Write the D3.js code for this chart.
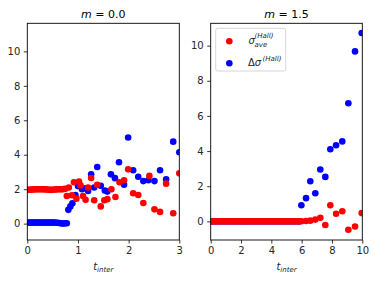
<!DOCTYPE html>
<html>
<head>
<meta charset="utf-8">
<script src="https://cdn.jsdelivr.net/npm/d3@7"></script>
<style>
  body { margin: 0; background: #fff; }
  svg text { font-family: "DejaVu Sans", sans-serif; }
</style>
</head>
<body>
<svg width="375" height="282"></svg>
<script>
// ---- data ----
// panel m = 0.0 : flat start
var tFlatA = [0, 0.03, 0.06, 0.09, 0.12, 0.15, 0.18, 0.21, 0.24, 0.27, 0.30, 0.33, 0.36, 0.39,
    0.42, 0.45, 0.48, 0.51, 0.54, 0.57, 0.60, 0.63, 0.66, 0.69, 0.72, 0.75];
var aveFlatA = [1.97, 1.97, 1.97, 1.98, 1.98, 1.99, 2.0, 2.0, 2.0, 2.0, 2.0, 1.99, 1.99, 1.98,
    1.97, 1.96, 1.96, 1.97, 1.98, 1.99, 2.0, 2.0, 2.0, 2.0, 2.01, 2.02];
var deltaFlatA = [0.06, 0.06, 0.06, 0.06, 0.06, 0.06, 0.06, 0.06, 0.06, 0.06, 0.06, 0.06, 0.06, 0.06,
    0.06, 0.06, 0.06, 0.06, 0.06, 0.05, 0.05, 0.04, 0.02, 0.01, 0.01, 0.02];
// panel m = 0.0 : scattered part
var tAveA = [0.78, 0.82, 0.88, 0.92, 0.97, 1.02, 1.05, 1.10, 1.15, 1.20, 1.26, 1.32, 1.38, 1.45, 1.52,
    1.58, 1.66, 1.74, 1.82, 1.91, 1.99, 2.09, 2.19, 2.29, 2.41, 2.51, 2.62, 2.74, 2.88, 3.00];
var aveA = [1.60, 2.10, 1.65, 2.40, 1.45, 2.45, 2.22, 1.60, 1.38, 2.10, 2.65, 1.36, 2.26, 1.00, 1.36,
    1.42, 2.00, 1.55, 2.40, 2.52, 3.15, 1.76, 1.66, 1.20, 2.77, 0.83, 0.68, 2.32, 0.60, 2.92];
var tDeltaA = [0.78, 0.81, 0.85, 0.89, 0.95, 1.00, 1.08, 1.15, 1.20, 1.26, 1.32, 1.38, 1.45, 1.53, 1.58,
    1.65, 1.73, 1.81, 1.91, 1.99, 2.09, 2.19, 2.29, 2.39, 2.51, 2.62, 2.74, 2.88, 3.00];
var deltaA = [0.02, 0.80, 1.00, 1.18, 1.66, 2.18, 2.00, 2.05, 1.90, 2.86, 2.10, 3.29, 2.20, 1.92, 1.86,
    2.86, 2.64, 3.56, 2.26, 5.00, 3.10, 2.72, 2.47, 2.52, 2.47, 3.10, 2.57, 4.76, 4.14];

// panel m = 1.5 : flat start (both series sit on zero)
var tFlatB = [0, 0.15, 0.3, 0.45, 0.6, 0.75, 0.9, 1.05, 1.2, 1.35, 1.5, 1.65, 1.8, 1.95, 2.1, 2.25,
    2.4, 2.55, 2.7, 2.85, 3.0, 3.15, 3.3, 3.45, 3.6, 3.75, 3.9, 4.05, 4.2, 4.35, 4.5, 4.65, 4.8,
    4.95, 5.1, 5.25, 5.4, 5.55, 5.7, 5.85];
var aveFlatB = [0, 0, 0, 0, 0, 0, 0, 0, 0, 0, 0, 0, 0, 0, 0, 0, 0, 0, 0, 0, 0, 0, 0, 0, 0, 0, 0,
    0, 0, 0, 0, 0, 0, 0, 0, 0, 0, 0, 0, 0];
var deltaFlatB = [0, 0, 0, 0, 0, 0, 0, 0, 0, 0, 0, 0, 0, 0, 0, 0, 0, 0, 0, 0, 0, 0, 0, 0, 0, 0, 0,
    0, 0, 0, 0, 0, 0, 0, 0, 0, 0, 0, 0, 0];
// panel m = 1.5 : rising part
var tB = [5.98, 6.29, 6.57, 6.90, 7.23, 7.56, 7.89, 8.27, 8.68, 9.08, 9.52, 9.96];
var aveB = [0.01, 0.02, 0.04, 0.10, 0.20, -0.21, 0.92, 0.43, 0.58, -0.48, -0.29, 0.47];
var deltaB = [0.92, 1.32, 2.28, 1.60, 2.95, 2.53, 4.10, 4.33, 4.55, 6.72, 9.67, 10.72];

var titles = ["0.0", "1.5"];
var xTicksA = [0, 1, 2, 3];
var xTicksB = [0, 2, 4, 6, 8, 10];
var yTicks = [0, 2, 4, 6, 8, 10];

var red = "#ff0000", blue = "#0000ff";

function pairs(t, v) { return t.map(function (d, i) { return [d, v[i]]; }); }

var svg = d3.select("svg");

var panels = [
    { id: "a", title: titles[0], x0: 27.3, x1: 179.3, xdom: [0, 3], ydom: [-0.95, 11.63], xticks: xTicksA,
      blue: pairs(tFlatA, deltaFlatA).concat(pairs(tDeltaA, deltaA)),
      red: pairs(tFlatA, aveFlatA).concat(pairs(tAveA, aveA)), legend: false },
    { id: "b", title: titles[1], x0: 210.7, x1: 362.3, xdom: [0, 10], ydom: [-1.06, 11.27], xticks: xTicksB,
      blue: pairs(tFlatB, deltaFlatB).concat(pairs(tB, deltaB)),
      red: pairs(tFlatB, aveFlatB).concat(pairs(tB, aveB)), legend: true }
];
var plotTop = 23.3, plotBottom = 240;

panels.forEach(function (p) {
    var x = d3.scaleLinear().domain(p.xdom).range([p.x0, p.x1]);
    var y = d3.scaleLinear().domain(p.ydom).range([plotBottom, plotTop]);

    svg.append("clipPath").attr("id", "clip" + p.id)
        .append("rect").attr("x", p.x0).attr("y", plotTop)
        .attr("width", p.x1 - p.x0).attr("height", plotBottom - plotTop);

    var g = svg.append("g").attr("clip-path", "url(#clip" + p.id + ")");
    g.selectAll(".b").data(p.blue).enter().append("circle")
        .attr("cx", function (d) { return x(d[0]); })
        .attr("cy", function (d) { return y(d[1]); })
        .attr("r", 3.3).attr("fill", blue);
    g.selectAll(".r").data(p.red).enter().append("circle")
        .attr("cx", function (d) { return x(d[0]); })
        .attr("cy", function (d) { return y(d[1]); })
        .attr("r", 3.3).attr("fill", red);

    // axes
    var xa = svg.append("g").attr("transform", "translate(0," + plotBottom + ")")
        .call(d3.axisBottom(x).tickValues(p.xticks).tickFormat(d3.format("d"))
            .tickSize(3.5).tickSizeOuter(0).tickPadding(3.5));
    var ya = svg.append("g").attr("transform", "translate(" + p.x0 + ",0)")
        .call(d3.axisLeft(y).tickValues(yTicks).tickFormat(d3.format("d"))
            .tickSize(3.5).tickSizeOuter(0).tickPadding(3.5));
    [xa, ya].forEach(function (a) {
        a.select(".domain").remove();
        a.selectAll("text").attr("font-size", "10px").attr("fill", "#262626")
            .attr("font-family", "DejaVu Sans");
        a.selectAll("line").attr("stroke", "#000").attr("stroke-width", 0.8);
    });

    svg.append("rect").attr("x", p.x0).attr("y", plotTop)
        .attr("width", p.x1 - p.x0).attr("height", plotBottom - plotTop)
        .attr("fill", "none").attr("stroke", "#000").attr("stroke-width", 0.9);

    // title
    var cx = (p.x0 + p.x1) / 2;
    var tt = svg.append("text").attr("x", cx).attr("y", 17.5).attr("text-anchor", "middle")
        .attr("font-size", "11px").attr("fill", "#000");
    tt.append("tspan").attr("font-style", "italic").text("m");
    tt.append("tspan").text(" = " + p.title);

    // x label
    var xl = svg.append("text").attr("x", cx).attr("y", 270).attr("text-anchor", "middle")
        .attr("font-size", "10px").attr("fill", "#262626").attr("font-style", "italic");
    xl.append("tspan").text("t");
    xl.append("tspan").attr("dy", 2.2).attr("font-size", "7px").text("inter");

    if (p.legend) {
        var lg = svg.append("g");
        lg.append("rect").attr("x", 215.7).attr("y", 28.3).attr("width", 70).attr("height", 42.7)
            .attr("rx", 2).attr("fill", "#fff").attr("fill-opacity", 0.8)
            .attr("stroke", "#cccccc").attr("stroke-width", 0.8);
        lg.append("circle").attr("cx", 229.3).attr("cy", 41.3).attr("r", 3.3).attr("fill", red);
        lg.append("circle").attr("cx", 229.3).attr("cy", 63.3).attr("r", 3.3).attr("fill", blue);
        // sigma_ave^(Hall)
        lg.append("text").attr("x", 248.5).attr("y", 43.5).attr("font-size", "10px")
            .attr("font-style", "italic").attr("fill", "#262626").text("σ");
        lg.append("text").attr("x", 254.5).attr("y", 46.5).attr("font-size", "7px")
            .attr("font-style", "italic").attr("fill", "#262626").text("ave");
        lg.append("text").attr("x", 254.5).attr("y", 38).attr("font-size", "7px")
            .attr("font-style", "italic").attr("fill", "#262626").text("(Hall)");
        // Delta sigma^(Hall)
        var d = lg.append("text").attr("x", 248).attr("y", 65.5).attr("font-size", "10px")
            .attr("fill", "#262626");
        d.append("tspan").text("Δ");
        d.append("tspan").attr("font-style", "italic").text("σ");
        lg.append("text").attr("x", 262.5).attr("y", 60.5).attr("font-size", "7px")
            .attr("font-style", "italic").attr("fill", "#262626").text("(Hall)");
    }
});
</script>
</body>
</html>
